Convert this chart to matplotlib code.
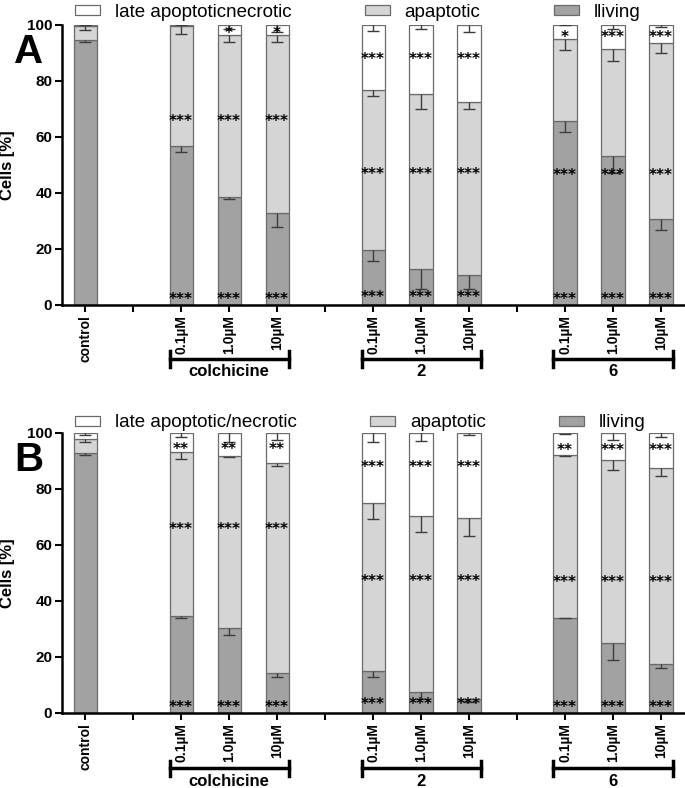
import matplotlib
matplotlib.use("Agg")
import matplotlib.pyplot as plt
import matplotlib.transforms as mtransforms
from matplotlib.patches import Patch
import numpy as np

plt.rcParams['font.family'] = ['Liberation Sans', 'DejaVu Sans']

# ---------------- data ----------------
positions = [0, 2, 3, 4, 6, 7, 8, 10, 11, 12]
tick_labels = ['control', '0.1µM', '1.0µM', '10µM',
               '0.1µM', '1.0µM', '10µM',
               '0.1µM', '1.0µM', '10µM']
groups = ['colchicine', '2', '6']
group_first = [2, 6, 10]
group_last = [4, 8, 12]
yticks = [0, 20, 40, 60, 80, 100]

# Panel A (% cells)
living_A = [94.5, 56.8, 38.7, 32.7, 19.6, 12.7, 10.6, 65.8, 53.3, 30.7]
apopt_A = [5.0, 42.8, 57.7, 63.7, 57.2, 62.5, 61.9, 29.1, 38.0, 62.8]
necro_A = [0.5, 0.4, 3.6, 3.6, 23.2, 24.8, 27.5, 5.1, 8.7, 6.5]
living_err_A = [0.6, 2.0, 1.0, 5.0, 4.0, 7.0, 5.0, 4.0, 6.0, 4.0]
apopt_err_A = [1.2, 2.8, 2.6, 2.6, 2.0, 5.3, 2.6, 4.0, 4.0, 3.6]
necro_err_A = [0.0, 0.0, 1.5, 2.6, 2.0, 1.5, 2.6, 0.0, 1.5, 0.6]
stars_necro_A = ['', '', '*', '*', '***', '***', '***', '*', '***', '***']
stars_apopt_A = ['', '***', '***', '***', '***', '***', '***', '***', '***', '***']
stars_living_A = ['', '***', '***', '***', '***', '***', '***', '***', '***', '***']
star_y_necro_A = [0, 0, 98.0, 98.0, 88.7, 88.7, 88.7, 96.5, 96.5, 96.5]
star_y_apopt_A = [0, 66.7, 66.7, 66.7, 47.6, 47.6, 47.6, 47.3, 47.3, 47.3]
star_y_living_A = [0, 3.2, 3.2, 3.2, 3.9, 3.9, 3.9, 3.2, 3.2, 3.2]

# Panel B (% cells)
living_B = [92.9, 34.8, 30.4, 14.3, 14.9, 7.4, 5.1, 33.9, 25.0, 17.5]
apopt_B = [5.0, 58.4, 61.3, 75.0, 60.1, 63.1, 64.5, 58.4, 65.5, 70.0]
necro_B = [2.1, 6.8, 8.3, 10.7, 25.0, 29.5, 30.4, 7.7, 9.5, 12.5]
living_err_B = [0.6, 0.9, 2.5, 1.4, 2.0, 2.3, 1.0, 0.0, 6.0, 1.4]
apopt_err_B = [1.1, 2.5, 0.4, 1.0, 5.6, 6.0, 6.5, 0.4, 3.6, 3.0]
necro_err_B = [0.6, 1.5, 3.2, 2.6, 3.3, 3.0, 0.7, 0.5, 2.6, 1.4]
stars_necro_B = ['', '**', '**', '**', '***', '***', '***', '**', '***', '***']
stars_apopt_B = ['', '***', '***', '***', '***', '***', '***', '***', '***', '***']
stars_living_B = ['', '***', '***', '***', '***', '***', '***', '***', '***', '***']
star_y_necro_B = [0, 95.2, 95.2, 95.2, 88.7, 88.7, 88.7, 94.9, 94.9, 94.9]
star_y_apopt_B = [0, 66.7, 66.7, 66.7, 48.0, 48.0, 48.0, 47.6, 47.6, 47.6]
star_y_living_B = [0, 3.2, 3.2, 3.2, 4.0, 4.0, 4.0, 3.2, 3.2, 3.2]

legend_labels_A = ['late apoptoticnecrotic', 'apaptotic', 'lliving']
legend_labels_B = ['late apoptotic/necrotic', 'apaptotic', 'lliving']

# ---------------- style ----------------
C_LIV = '#a2a2a2'
C_APO = '#d5d5d5'
C_NEC = '#ffffff'
EDGE = '#6a6a6a'
ECOL = '#3c3c3c'
W = 0.48

fig = plt.figure(figsize=(6.85, 7.88), dpi=100)
ax_A = fig.add_axes([62/685, 483/788, 623/685, 280/788])
ax_B = fig.add_axes([62/685, 75/788, 623/685, 280/788])


def errs(ax, x, top, err):
    err = np.asarray(err)
    _, caps, _ = ax.errorbar(x, top, yerr=[err, np.zeros_like(err)], fmt='none',
                             ecolor=ECOL, elinewidth=1.0, capsize=4.3,
                             capthick=1.0, zorder=4)
    if len(caps) > 1:
        caps[1].set_visible(False)


def panel(ax, living, apopt, necro, le, ae, ne, s_n, s_a, s_l,
          y_n, y_a, y_l, labels, letter, bracket_y, legend_y):
    living = np.asarray(living)
    apopt = np.asarray(apopt)
    necro = np.asarray(necro)
    ax.bar(positions, living, W, color=C_LIV, edgecolor=EDGE, linewidth=0.9, zorder=2)
    ax.bar(positions, apopt, W, bottom=living, color=C_APO, edgecolor=EDGE,
           linewidth=0.9, zorder=2)
    ax.bar(positions, necro, W, bottom=living + apopt, color=C_NEC,
           edgecolor=EDGE, linewidth=0.9, zorder=2)
    errs(ax, positions, living, le)
    errs(ax, positions, living + apopt, ae)
    errs(ax, positions, living + apopt + necro, ne)

    star_tr = mtransforms.offset_copy(ax.transData, fig=ax.figure, x=0, y=-3,
                                      units='dots')
    for ss, yy in ((s_n, y_n), (s_a, y_a), (s_l, y_l)):
        for x, s, y in zip(positions, ss, yy):
            if s:
                ax.text(x, y, s, ha='center', va='center', fontsize=11,
                        family='DejaVu Sans', fontweight='bold', zorder=5,
                        transform=star_tr)

    ax.set_xlim(-0.48, 12.5)
    ax.set_ylim(0, 100)
    ax.set_yticks(yticks)
    ax.set_yticklabels([str(t) for t in yticks], fontsize=11, fontweight='bold')
    ax.set_xticks(range(13))
    lab = [''] * 13
    for p, t in zip(positions, tick_labels):
        lab[p] = t
    ax.set_xticklabels(lab, rotation=90, fontsize=10, fontweight='bold')
    ax.tick_params(axis='both', direction='out', length=5, width=1.5, pad=2)
    for s in ['top', 'right']:
        ax.spines[s].set_visible(False)
    for s in ['left', 'bottom']:
        ax.spines[s].set_linewidth(1.8)
    ax.set_ylabel('Cells [%]', fontsize=12, fontweight='bold')
    ax.yaxis.set_label_coords(-0.075, 0.5)

    trans = mtransforms.blended_transform_factory(ax.transData, ax.transAxes)
    for g, a, b in zip(groups, group_first, group_last):
        x0, x1 = a - W / 2, b + W / 2
        ax.plot([x0, x1], [bracket_y, bracket_y], color='black', lw=2.5,
                transform=trans, clip_on=False)
        for xx in (x0, x1):
            ax.plot([xx, xx], [bracket_y - 0.028, bracket_y + 0.028], color='black',
                    lw=2.5, transform=trans, clip_on=False)
        ax.text((a + b) / 2, bracket_y - 0.045, g, ha='center', va='center',
                fontsize=12, fontweight='bold', transform=trans)

    handles = [Patch(facecolor=C_NEC, edgecolor=EDGE, linewidth=0.9),
               Patch(facecolor=C_APO, edgecolor=EDGE, linewidth=0.9),
               Patch(facecolor=C_LIV, edgecolor=EDGE, linewidth=0.9)]
    ax.legend(handles, labels, loc='center left', bbox_to_anchor=(0.021, legend_y),
              ncol=3, frameon=False, fontsize=13.5, handlelength=1.33,
              handleheight=0.45, handletextpad=0.8, columnspacing=3.9,
              borderpad=0, borderaxespad=0)

    ax.text(-0.054, 0.905, letter, transform=ax.transAxes, ha='center', va='center',
            fontsize=29, fontweight='bold')


panel(ax_A, living_A, apopt_A, necro_A, living_err_A, apopt_err_A, necro_err_A,
      stars_necro_A, stars_apopt_A, stars_living_A,
      star_y_necro_A, star_y_apopt_A, star_y_living_A,
      legend_labels_A, 'A', -0.193, 1.046)
panel(ax_B, living_B, apopt_B, necro_B, living_err_B, apopt_err_B, necro_err_B,
      stars_necro_B, stars_apopt_B, stars_living_B,
      star_y_necro_B, star_y_apopt_B, star_y_living_B,
      legend_labels_B, 'B', -0.198, 1.036)

fig.savefig('out.png', dpi=100)
